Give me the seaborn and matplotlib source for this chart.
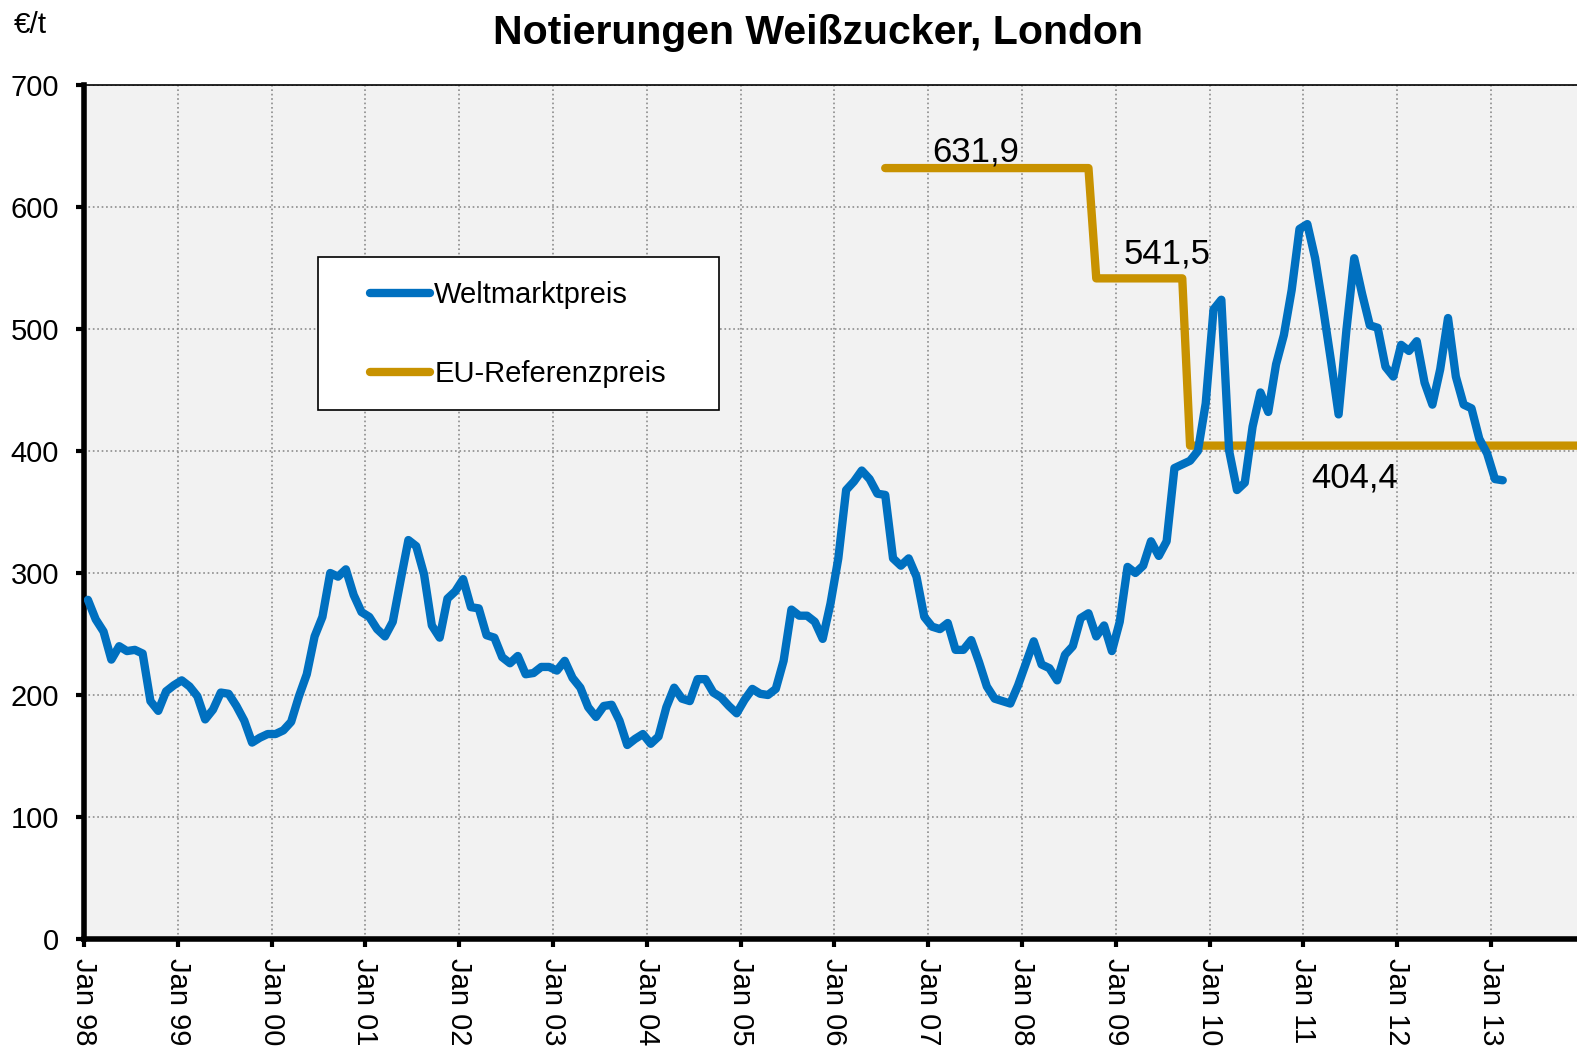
import matplotlib
matplotlib.use('Agg')
import matplotlib.pyplot as plt
import matplotlib.patches as mpatches
import numpy as np
import pandas as pd
import seaborn as sns


# Weltmarktpreis Weisszucker London, EUR/t, Monatswerte ab Jan 1998
weltmarkt = [
    278, 262, 252, 229, 240, 236, 237, 234, 195, 187, 203, 208,   # 1998
    212, 207, 199, 180, 188, 202, 201, 191, 179, 161, 165, 168,   # 1999
    168, 171, 178, 199, 217, 248, 264, 300, 297, 303, 282, 268,   # 2000
    264, 254, 248, 260, 294, 327, 322, 299, 257, 247, 279, 285,   # 2001
    295, 272, 271, 249, 247, 231, 226, 232, 217, 218, 223, 223,   # 2002
    220, 228, 214, 206, 190, 182, 191, 192, 179, 159, 164, 168,   # 2003
    160, 166, 190, 206, 197, 195, 213, 213, 202, 198, 191, 185,   # 2004
    196, 205, 201, 200, 205, 228, 270, 265, 265, 260, 246, 275,   # 2005
    312, 368, 375, 384, 377, 365, 364, 312, 306, 312, 297, 264,   # 2006
    256, 254, 259, 237, 237, 245, 227, 207, 197, 195, 193, 208,   # 2007
    226, 244, 225, 222, 212, 233, 240, 263, 267, 248, 257, 236,   # 2008
    260, 305, 300, 306, 326, 314, 326, 386, 389, 392, 400, 439,   # 2009
    516, 524, 400, 368, 374, 420, 448, 432, 471, 495, 532, 582,   # 2010
    586, 558, 518, 475, 430, 499, 558, 529, 503, 501, 469, 461,   # 2011
    487, 482, 490, 456, 438, 467, 509, 461, 438, 435, 410, 398,   # 2012
    377, 376,                                                     # 2013
]

# EU-Referenzpreis (Stufen), gueltig ab Monat
eu_ab = ['2006-07', '2008-10', '2009-10']
eu_preis = [631.9, 541.5, 404.4]
eu_bis = '2013-12'

jahre = list(range(1998, 2014))
tick_labels = ['Jan {:02d}'.format(j % 100) for j in jahre]

BLAU = '#0070C0'
GOLD = '#C89200'


def monats_pos(d):
    # Kategorie-Mitte: Monatsindex ab Jan 98 + 0.5
    return (d.year - 1998) * 12 + d.month - 1 + 0.5


welt = pd.DataFrame({'datum': pd.date_range('1998-01', periods=len(weltmarkt), freq='MS'),
                     'wert': weltmarkt})
welt['pos'] = monats_pos(welt['datum'].dt)

eu_rows = []
grenzen = eu_ab[1:] + [pd.Timestamp(eu_bis) + pd.DateOffset(months=1)]
for start, ende, preis in zip(eu_ab, grenzen, eu_preis):
    for d in pd.date_range(start, pd.Timestamp(ende) - pd.DateOffset(months=1), freq='MS'):
        eu_rows.append((d, preis))
eu = pd.DataFrame(eu_rows, columns=['datum', 'wert'])
eu['pos'] = monats_pos(eu['datum'].dt)

sns.set_theme(style='ticks')
plt.rcParams['font.family'] = ['Liberation Sans', 'DejaVu Sans']
plt.rcParams['text.color'] = 'black'
plt.rcParams['xtick.color'] = 'black'
plt.rcParams['ytick.color'] = 'black'

W, H = 1577, 1048
fig = plt.figure(figsize=(W / 100, H / 100), dpi=100)
ax = fig.add_axes([84 / W, 109 / H, 1493 / W, 854 / H])
ax.set_facecolor('#F2F2F2')

sns.lineplot(data=welt, x='pos', y='wert', color=BLAU, linewidth=6, ax=ax,
             label='Weltmarktpreis', legend=False, zorder=4)
sns.lineplot(data=eu, x='pos', y='wert', color=GOLD, linewidth=6, ax=ax,
             label='EU-Referenzpreis', legend=False, zorder=3)

ax.set_xlim(0, 191)
ax.set_ylim(0, 700)
ax.set_xticks([(j - 1998) * 12 for j in jahre])
ax.set_xticklabels(tick_labels, rotation=-90)
ax.set_yticks(range(0, 701, 100))
ax.set_xlabel('')
ax.set_ylabel('')

ax.grid(True, linestyle=':', color='#8c8c8c', linewidth=1.2)
ax.set_axisbelow(True)

for s in ['left', 'bottom']:
    ax.spines[s].set_linewidth(4)
    ax.spines[s].set_color('black')
ax.spines['top'].set_linewidth(1.2)
ax.spines['top'].set_color('black')
ax.spines['right'].set_visible(False)

ax.tick_params(axis='both', direction='out', length=6, width=3, color='black',
               labelsize=21, labelcolor='black')
ax.tick_params(axis='y', pad=12)
ax.tick_params(axis='x', pad=8)

# Wertbeschriftungen
ax.text(114.1, 645, '631,9', ha='center', va='center', fontsize=25)
ax.text(138.5, 561.5, '541,5', ha='center', va='center', fontsize=25)
ax.text(162.5, 377.5, '404,4', ha='center', va='center', fontsize=25)

# Legende mit eigenem Rahmen
rahmen = mpatches.Rectangle((0.1567, 0.6194), 0.2686, 0.179, transform=ax.transAxes,
                            facecolor='white', edgecolor='black', linewidth=1.2, zorder=5)
ax.add_patch(rahmen)
handles, labels = ax.get_legend_handles_labels()
leg = ax.legend(handles, labels, loc='center left', bbox_to_anchor=(0.1916, 0.708),
                frameon=False, fontsize=21, borderpad=0, borderaxespad=0,
                handlelength=2.05, handletextpad=0.15, labelspacing=1.75)
leg.set_zorder(6)

fig.text(818 / W, 1 - 33 / H, 'Notierungen Weißzucker, London', ha='center', va='center',
         fontsize=29.5, fontweight='bold')
fig.text(30 / W, 1 - 25 / H, '€/t', ha='center', va='center', fontsize=21.5)

fig.savefig('out.png', dpi=100, facecolor='white')
